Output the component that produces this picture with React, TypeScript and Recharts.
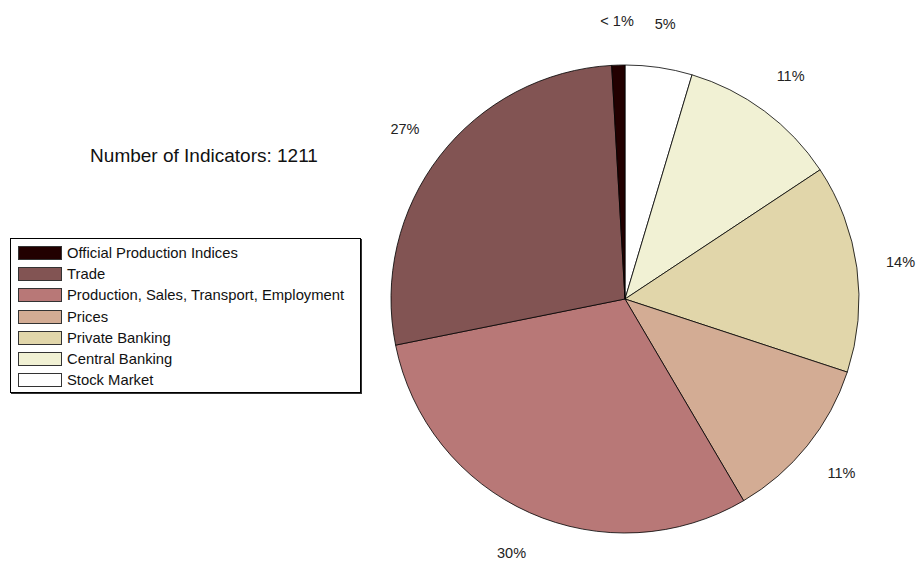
import { Pie, PieChart } from "recharts";

const CATEGORIES = [
  "Stock Market",
  "Central Banking",
  "Private Banking",
  "Prices",
  "Production, Sales, Transport, Employment",
  "Trade",
  "Official Production Indices",
];
const COUNTS = [56, 134, 174, 139, 367, 330, 11];
const COLORS = ["#ffffff", "#f1f1d4", "#e1d6aa", "#d3ac94", "#b87877", "#825453", "#220000"];
// legend lists categories in reverse of the slice order
const LEGEND_ORDER = [6, 5, 4, 3, 2, 1, 0];
const TOTAL = COUNTS.reduce((a, b) => a + b, 0);

const FONT = "'Liberation Sans', Arial, Helvetica, sans-serif";
const RAD = Math.PI / 180;

const data = CATEGORIES.map((name, i) => ({ name, value: COUNTS[i], fill: COLORS[i] }));

function pctLabel(v: number) {
  const p = (v / TOTAL) * 100;
  return p < 1 ? "< 1%" : `${Math.round(p)}%`;
}

function SliceLabel(props: any) {
  const { cx, cy, midAngle, value } = props;
  const r = 278;
  const x = cx + r * Math.cos(-midAngle * RAD);
  const y = cy + r * Math.sin(-midAngle * RAD);
  return (
    <text
      x={x}
      y={y}
      textAnchor="middle"
      dominantBaseline="central"
      fontSize={14.5}
      fontFamily={FONT}
      fill="#222"
    >
      {pctLabel(value)}
    </text>
  );
}

function LegendBox() {
  return (
    <div
      style={{
        position: "absolute",
        left: 10,
        top: 238,
        width: 351,
        height: 155,
        border: "1px solid #000",
        boxShadow: "1px 1px 0 #333",
        background: "#fff",
        boxSizing: "border-box",
        paddingTop: 3,
        paddingLeft: 7,
        fontFamily: FONT,
        fontSize: 14.8,
        color: "#111",
      }}
    >
      {LEGEND_ORDER.map((i) => (
        <div key={i} style={{ display: "flex", alignItems: "center", height: 21.3, whiteSpace: "nowrap" }}>
          <span
            style={{
              display: "inline-block",
              width: 44,
              height: 14,
              flexShrink: 0,
              boxSizing: "border-box",
              border: "1px solid #333",
              background: COLORS[i],
              marginRight: 5,
            }}
          />
          {CATEGORIES[i]}
        </div>
      ))}
    </div>
  );
}

export default function App() {
  return (
    <div style={{ position: "absolute", left: 0, top: 0, width: 918, height: 561, background: "#fff" }}>
      <div
        style={{
          position: "absolute",
          left: 0,
          width: 408,
          top: 145,
          textAlign: "center",
          fontFamily: FONT,
          fontSize: 19,
          color: "#111",
        }}
      >
        Number of Indicators: {TOTAL}
      </div>
      <LegendBox />
      <div style={{ position: "absolute", left: 0, top: 0 }}>
        <PieChart width={918} height={561} margin={{ top: 0, right: 0, bottom: 0, left: 0 }}>
          <Pie
            data={data}
            dataKey="value"
            nameKey="name"
            cx={625}
            cy={299}
            outerRadius={234}
            startAngle={90}
            endAngle={-270}
            stroke="#000"
            strokeWidth={0.8}
            label={SliceLabel}
            labelLine={false}
            isAnimationActive={false}
          />
        </PieChart>
      </div>
    </div>
  );
}
